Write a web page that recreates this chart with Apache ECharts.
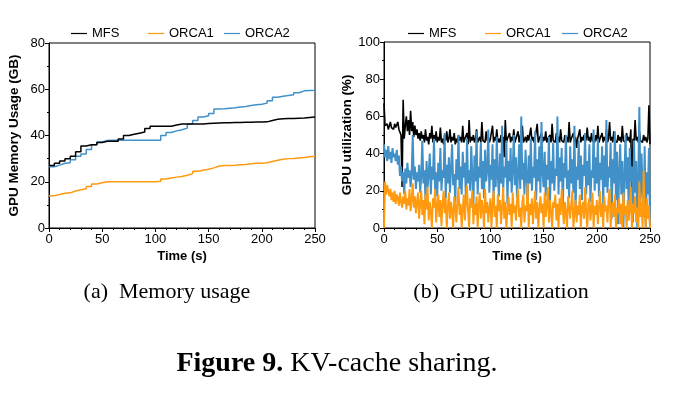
<!DOCTYPE html>
<html>
<head>
<meta charset="utf-8">
<title>KV-cache sharing</title>
<script src="https://cdn.jsdelivr.net/npm/echarts@6/dist/echarts.min.js"></script>
<style>
  html, body { margin: 0; padding: 0; background: #fff; }
  #chart { width: 687px; height: 401px; }
</style>
</head>
<body>
<div id="chart"></div>
<script>
// series names, as in the legend
const seriesNames = ["MFS", "ORCA1", "ORCA2"];

// (a) memory usage, sampled every 5 s
const memTimes = [0, 5, 10, 15, 20, 25, 30, 35, 40, 45, 50, 55, 60, 65, 70, 75, 80, 85, 90, 95,
  100, 105, 110, 115, 120, 125, 130, 135, 140, 145, 150, 155, 160, 165, 170, 175, 180, 185, 190, 195,
  200, 205, 210, 215, 220, 225, 230, 235, 240, 245, 250];
const memMFS = [27, 28, 29, 30, 31, 33, 35.5, 36, 36, 37, 37.5, 37.5, 37.5, 38.5, 40, 40.5, 41, 41.5, 43, 44,
  44, 44, 44, 44.5, 45, 45, 45, 45, 45, 45.2, 45.3, 45.4, 45.5, 45.5, 45.6, 45.6, 45.7, 45.7, 45.8, 45.8,
  45.9, 46.5, 47, 47.2, 47.3, 47.4, 47.5, 47.6, 47.8, 48, 48.3];
const memORCA1 = [14, 14.5, 15, 15.2, 16, 16.5, 17, 18, 19, 19.6, 20, 20, 20, 20, 20, 20, 20, 20, 20, 20,
  20.2, 21.2, 21.6, 22, 22.3, 22.8, 23.5, 24.5, 25, 25.4, 26, 26.8, 27, 27, 27.1, 27.3, 27.5, 27.8, 28, 28,
  28.2, 28.8, 29.3, 29.7, 30, 30.1, 30.3, 30.5, 30.8, 31, 31.2];
const memORCA2 = [26.5, 27.2, 28, 28.2, 29.5, 31, 32, 34, 36, 37.2, 37.8, 37.9, 38, 38, 38, 38, 38, 38, 38, 38,
  38, 40, 41.3, 42, 42.5, 43.2, 45, 46.5, 48, 48.5, 49.5, 51.5, 51.6, 51.8, 52, 52.3, 52.5, 53, 53.3, 53.5,
  54, 55, 56.5, 57, 57.3, 57.6, 58.5, 59.3, 59.5, 59.6, 60];

// (b) GPU utilization, one sample per second (t = 0..250)
const gpuTimes = Array.from({ length: 251 }, (_, i) => i);
const gpuMFS = [
  67, 55, 54, 56, 53, 55, 57, 54, 55, 53, 56, 54, 55, 57, 53, 52, 50, 22, 69, 48, 55, 60, 52, 58, 50,
  63, 52, 57, 49, 55, 50, 53, 48, 51, 47, 52, 48, 50, 46, 53, 47, 49, 45, 51, 48, 55, 46, 50, 47, 52,
  46, 49, 47, 54, 46, 48, 45, 50, 47, 52, 46, 48, 53, 46, 49, 47, 51, 45, 48, 46, 50, 47, 49, 46, 55,
  46, 48, 47, 51, 45, 58, 46, 49, 47, 50, 46, 48, 53, 46, 47, 49, 46, 57, 47, 48, 46, 52, 47, 49, 46,
  48, 47, 55, 46, 49, 47, 53, 46, 48, 46, 50, 47, 49, 38, 58, 46, 48, 47, 51, 46, 49, 47, 53, 46, 48,
  47, 52, 46, 49, 48, 55, 46, 47, 49, 46, 50, 47, 46, 54, 47, 49, 46, 48, 47, 56, 46, 48, 47, 51, 46,
  49, 47, 52, 46, 48, 47, 50, 46, 56, 47, 48, 46, 51, 47, 49, 46, 53, 47, 48, 46, 50, 47, 49, 46, 57,
  46, 48, 47, 51, 46, 49, 43, 48, 47, 53, 46, 49, 47, 50, 46, 48, 54, 47, 49, 46, 51, 47, 48, 46, 50,
  47, 55, 46, 48, 47, 51, 46, 49, 47, 53, 46, 48, 57, 47, 49, 46, 52, 47, 48, 46, 50, 47, 49, 46, 55,
  47, 48, 46, 51, 47, 49, 46, 53, 5, 48, 46, 58, 47, 49, 46, 52, 47, 48, 46, 50, 47, 49, 46, 48, 66,
  45];
const gpuORCA1 = [
  0, 25, 18, 23, 20, 17, 21, 15, 19, 14, 20, 13, 18, 16, 12, 19, 14, 11, 17, 13, 20, 10, 16, 12, 21,
  9, 15, 24, 11, 17, 8, 14, 19, 5, 13, 20, 7, 15, 2, 18, 10, 22, 4, 14, 9, 0, 16, 11, 21, 3,
  12, 18, 6, 15, 1, 13, 20, 8, 16, 0, 11, 19, 5, 14, 9, 0, 17, 12, 3, 15, 22, 7, 13, 0, 10,
  18, 4, 14, 23, 9, 0, 16, 11, 20, 2, 13, 7, 17, 0, 12, 19, 5, 15, 10, 0, 21, 8, 14, 3, 11,
  16, 0, 13, 20, 6, 12, 0, 18, 9, 15, 2, 11, 22, 5, 14, 0, 10, 17, 7, 13, 0, 19, 8, 12, 4,
  15, 21, 6, 11, 0, 14, 18, 3, 12, 9, 24, 0, 13, 7, 16, 2, 11, 20, 5, 14, 0, 10, 17, 8, 13,
  0, 19, 6, 12, 22, 3, 15, 9, 0, 14, 11, 18, 4, 13, 0, 16, 7, 21, 10, 2, 14, 8, 0, 17, 11,
  5, 13, 20, 0, 9, 15, 3, 12, 7, 18, 0, 11, 14, 5, 22, 9, 0, 13, 16, 4, 10, 19, 0, 12, 7,
  15, 2, 11, 20, 6, 13, 0, 17, 9, 12, 3, 15, 21, 0, 10, 14, 6, 18, 0, 11, 8, 16, 2, 13, 0,
  19, 7, 12, 0, 15, 4, 10, 22, 0, 13, 8, 17, 3, 11, 0, 25, 6, 14, 0, 31, 9, 0, 16, 5, 12,
  0];
const gpuORCA2 = [
  45, 38, 42, 36, 44, 37, 41, 35, 43, 38, 40, 36, 42, 34, 39, 28, 33, 25, 30, 18, 32, 24, 35, 27, 31,
  22, 29, 50, 26, 33, 21, 30, 25, 34, 19, 28, 47, 24, 31, 15, 36, 22, 29, 40, 18, 33, 26, 48, 21, 30,
  17, 35, 25, 43, 20, 31, 27, 51, 16, 34, 24, 38, 19, 32, 45, 23, 29, 14, 37, 26, 50, 21, 33, 18, 41,
  27, 35, 15, 48, 24, 31, 20, 44, 28, 12, 39, 25, 52, 18, 33, 27, 46, 21, 36, 16, 42, 25, 31, 53, 19,
  34, 26, 45, 14, 37, 22, 49, 28, 17, 40, 24, 55, 20, 33, 27, 47, 13, 36, 25, 43, 19, 31, 50, 23, 38,
  16, 29, 45, 21, 60, 26, 35, 18, 42, 28, 11, 39, 24, 48, 20, 33, 27, 52, 15, 37, 25, 44, 19, 57, 30,
  22, 41, 17, 34, 26, 49, 13, 36, 24, 46, 20, 32, 28, 60, 18, 38, 25, 43, 10, 35, 27, 50, 21, 31, 16,
  44, 24, 37, 19, 55, 8, 33, 26, 47, 21, 39, 15, 34, 28, 51, 18, 36, 23, 45, 14, 31, 27, 53, 20, 38,
  24, 48, 17, 35, 26, 44, 12, 39, 22, 58, 19, 33, 27, 46, 5, 37, 24, 52, 15, 41, 2, 30, 45, 18, 36,
  0, 28, 50, 21, 38, 9, 43, 25, 33, 3, 47, 19, 36, 0, 26, 65, 14, 40, 22, 6, 44, 0, 30, 18, 43,
  0];

const colors = { MFS: "#000000", ORCA1: "#ff9a0f", ORCA2: "#4190c8" };
const sansFont = "Liberation Sans";
const serifFont = "Liberation Serif";

// x position of each legend entry's line, per chart
const legendLefts = [[66, 143, 219], [403, 480, 557]];

function pairs(xs, ys) {
  return xs.map((x, i) => [x, ys[i]]);
}

function legendsFor(chartIdx) {
  return seriesNames.map((n, k) => ({
    left: legendLefts[chartIdx][k],
    top: 22,
    itemWidth: 16,
    itemHeight: 10,
    icon: "path://M0,4.4L16,4.4L16,5.6L0,5.6Z",
    data: [{ name: n, itemStyle: { color: colors[n] } }],
    textStyle: { fontFamily: sansFont, fontSize: 13, color: "#000" },
    selectedMode: false
  }));
}

function xAxisFor(gridIndex) {
  return {
    gridIndex: gridIndex,
    type: "value",
    min: 0,
    max: 250,
    interval: 50,
    name: "Time (s)",
    nameLocation: "middle",
    nameGap: 22,
    nameTextStyle: { fontFamily: sansFont, fontSize: 13, fontWeight: "bold", color: "#000" },
    axisLine: { lineStyle: { color: "#000", width: 1 } },
    axisTick: { length: 4, lineStyle: { color: "#000" } },
    minorTick: { show: true, splitNumber: 5, length: 2, lineStyle: { color: "#000" } },
    axisLabel: { fontFamily: sansFont, fontSize: 13, color: "#000", margin: 5 },
    splitLine: { show: false }
  };
}

function yAxisFor(gridIndex, max, name) {
  return {
    gridIndex: gridIndex,
    type: "value",
    min: 0,
    max: max,
    interval: 20,
    name: name,
    nameLocation: "middle",
    nameGap: 28,
    nameTextStyle: { fontFamily: sansFont, fontSize: 13.5, fontWeight: "bold", color: "#000" },
    axisLine: { show: true, lineStyle: { color: "#000", width: 1 } },
    axisTick: { show: true, length: 4, lineStyle: { color: "#000" } },
    minorTick: { show: true, splitNumber: 2, length: 2, lineStyle: { color: "#000" } },
    axisLabel: { fontFamily: sansFont, fontSize: 13, color: "#000", margin: 4 },
    splitLine: { show: false }
  };
}

function lineSeries(name, idx, data, width, z, step) {
  return {
    name: name,
    type: "line",
    xAxisIndex: idx,
    yAxisIndex: idx,
    data: data,
    step: step,
    symbol: "none",
    showSymbol: false,
    z: z,
    animation: false,
    lineStyle: { color: colors[name], width: width },
    itemStyle: { color: colors[name] }
  };
}

const chart = echarts.init(document.getElementById("chart"), null, { renderer: "canvas" });

chart.setOption({
  backgroundColor: "#fff",
  animation: false,
  legend: legendsFor(0).concat(legendsFor(1)),
  grid: [
    { left: 49, top: 43, width: 266, height: 185, show: true, borderColor: "#000", borderWidth: 1 },
    { left: 384, top: 42, width: 266, height: 186, show: true, borderColor: "#000", borderWidth: 1 }
  ],
  xAxis: [xAxisFor(0), xAxisFor(1)],
  yAxis: [
    yAxisFor(0, 80, "GPU Memory Usage (GB)"),
    yAxisFor(1, 100, "GPU utilization (%)")
  ],
  series: [
    lineSeries("MFS", 0, pairs(memTimes, memMFS), 1.5, 3, "end"),
    lineSeries("ORCA1", 0, pairs(memTimes, memORCA1), 1.5, 2, "end"),
    lineSeries("ORCA2", 0, pairs(memTimes, memORCA2), 1.5, 2, "end"),
    lineSeries("MFS", 1, pairs(gpuTimes, gpuMFS), 1.6, 2, false),
    lineSeries("ORCA2", 1, pairs(gpuTimes, gpuORCA2), 2, 3, false),
    lineSeries("ORCA1", 1, pairs(gpuTimes, gpuORCA1), 1.9, 4, false)
  ],
  graphic: [
    {
      type: "text",
      x: 167, y: 292,
      style: {
        text: "(a)  Memory usage",
        font: "22px 'Liberation Serif'",
        fill: "#000",
        textAlign: "center",
        textVerticalAlign: "middle"
      }
    },
    {
      type: "text",
      x: 501, y: 292,
      style: {
        text: "(b)  GPU utilization",
        font: "22px 'Liberation Serif'",
        fill: "#000",
        textAlign: "center",
        textVerticalAlign: "middle"
      }
    },
    {
      type: "text",
      x: 337, y: 364,
      style: {
        text: "{b|Figure 9.} KV-cache sharing.",
        fontFamily: serifFont,
        fontSize: 28,
        fill: "#000",
        textAlign: "center",
        textVerticalAlign: "middle",
        rich: { b: { fontFamily: serifFont, fontSize: 28, fontWeight: "bold", fill: "#000" } }
      }
    }
  ]
});
</script>
</body>
</html>
